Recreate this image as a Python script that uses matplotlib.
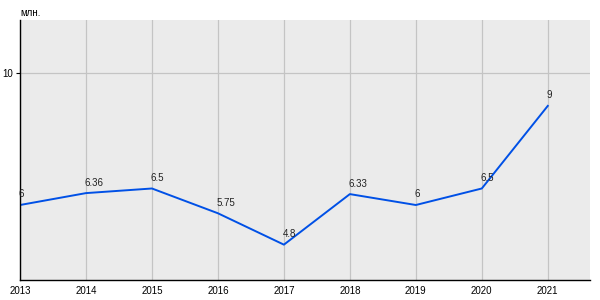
import matplotlib
matplotlib.use("Agg")
import matplotlib.pyplot as plt

# Data
years = [2013, 2014, 2015, 2016, 2017, 2018, 2019, 2020, 2021]
values = [6, 6.36, 6.5, 5.75, 4.8, 6.33, 6, 6.5, 9]
labels = ["6", "6.36", "6.5", "5.75", "4.8", "6.33", "6", "6.5", "9"]

plt.rcParams["font.family"] = ["Liberation Sans", "DejaVu Sans"]

fig = plt.figure(figsize=(6, 3), dpi=100)
ax = fig.add_axes([20 / 600, 20 / 300, 570 / 600, 260 / 300])
ax.set_facecolor("#ebebeb")

ax.plot(years, values, color="#0050e6", linewidth=1.4)
for x, y, t in zip(years, values, labels):
    ax.annotate(t, (x, y), xytext=(-1, 4), textcoords="offset points",
                fontsize=7, ha="left", va="bottom", color="#222222")

ax.set_xlim(2013, 2021.64)
ax.set_ylim(3.73, 11.6)
ax.set_xticks(years)
ax.set_xticklabels([str(y) for y in years], fontsize=7)
ax.set_yticks([10])
ax.set_yticklabels(["10"], fontsize=7)
ax.grid(True, color="#c4c4c4", linewidth=0.9)
ax.set_axisbelow(True)
ax.tick_params(axis="x", length=0, pad=4)
ax.tick_params(axis="y", length=3, width=0.8, pad=2)

for s in ["top", "right"]:
    ax.spines[s].set_visible(False)
for s in ["left", "bottom"]:
    ax.spines[s].set_color("black")
    ax.spines[s].set_linewidth(1.0)

fig.text(20 / 600, 1 - 13 / 300, "млн.", fontsize=7, ha="left", va="center")

fig.savefig("out.png", dpi=100, facecolor="white")
